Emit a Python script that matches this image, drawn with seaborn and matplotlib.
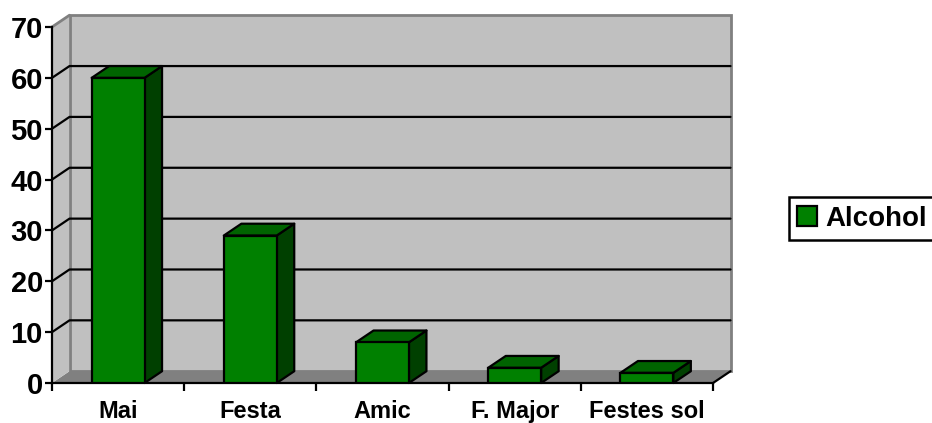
import matplotlib
matplotlib.use("Agg")
import matplotlib.pyplot as plt
import seaborn as sns
import pandas as pd
from matplotlib.patches import Polygon, Rectangle
from matplotlib.lines import Line2D

# ---- data ----
categories = ["Mai", "Festa", "Amic", "F. Major", "Festes sol"]
values = [60, 29, 8, 3, 2]
series_name = "Alcohol"
y_ticks = [0, 10, 20, 30, 40, 50, 60, 70]

# ---- style ----
sns.set_theme(style="white")
plt.rcParams['font.family'] = ['Liberation Sans', 'DejaVu Sans']
plt.rcParams['text.color'] = 'black'
plt.rcParams['xtick.color'] = 'black'
plt.rcParams['ytick.color'] = 'black'

FRONT = "#008000"
TOP = "#006400"
SIDE = "#004000"
WALL = "#C0C0C0"
FLOOR = "#808080"
EDGE_GRAY = "#808080"

W, H = 932, 423
fig = plt.figure(figsize=(W / 100, H / 100), dpi=100)
L, R, B, T = 52, 713, 383, 27
ax = fig.add_axes([L / W, 1 - B / H, (R - L) / W, (B - T) / H])
ax.patch.set_visible(False)

df = pd.DataFrame({"cat": categories, "val": values})
sns.barplot(data=df, x="cat", y="val", color=FRONT, saturation=1, width=0.4,
            edgecolor="black", linewidth=1.6, ax=ax, zorder=6)
bars = list(ax.patches)

ymin, ymax = y_ticks[0], y_ticks[-1]
x0, x1 = -0.5, len(categories) - 0.5
ax.set_xlim(x0, x1)
ax.set_ylim(ymin, ymax)

# depth offsets (pixels -> data units)
xs = (R - L) / (x1 - x0)
ys = (B - T) / (ymax - ymin)
ddx = 17.5 / xs
ddy = 11.8 / ys

# walls and floor
ax.add_patch(Polygon([(x0, ymin), (x1, ymin), (x1 + ddx, ymin + ddy), (x0 + ddx, ymin + ddy)],
                     closed=True, fc=FLOOR, ec="none", zorder=0, clip_on=False))
ax.add_patch(Polygon([(x0, ymin), (x0 + ddx, ymin + ddy), (x0 + ddx, ymax + ddy), (x0, ymax)],
                     closed=True, fc=WALL, ec="none", zorder=0, clip_on=False))
ax.add_patch(Rectangle((x0 + ddx, ymin + ddy), x1 - x0, ymax - ymin,
                       fc=WALL, ec=EDGE_GRAY, lw=2, zorder=0.5, clip_on=False))
ax.add_line(Line2D([x0, x0 + ddx], [ymax, ymax + ddy], color=EDGE_GRAY, lw=2,
                   zorder=0.6, clip_on=False))
for yv in y_ticks[1:-1]:
    ax.add_line(Line2D([x0, x0 + ddx, x1 + ddx], [yv, yv + ddy, yv + ddy],
                       color="black", lw=1.6, zorder=1, clip_on=False))
ax.add_line(Line2D([x1, x1 + ddx], [ymin, ymin + ddy], color="black", lw=1.6,
                   zorder=3, clip_on=False))

# 3D faces for bars
for p in bars:
    l, w, h = p.get_x(), p.get_width(), p.get_height()
    ax.add_patch(Polygon([(l + w, 0), (l + w + ddx, ddy), (l + w + ddx, h + ddy), (l + w, h)],
                         closed=True, fc=SIDE, ec="black", lw=1.6, zorder=5, clip_on=False,
                         joinstyle="round"))
    ax.add_patch(Polygon([(l, h), (l + w, h), (l + w + ddx, h + ddy), (l + ddx, h + ddy)],
                         closed=True, fc=TOP, ec="black", lw=1.6, zorder=5, clip_on=False,
                         joinstyle="round"))

# axes
for s in ["top", "right"]:
    ax.spines[s].set_visible(False)
for s in ["left", "bottom"]:
    ax.spines[s].set_color("black")
    ax.spines[s].set_linewidth(1.6)
    ax.spines[s].set_zorder(4)

ax.set_yticks(y_ticks)
ax.set_yticklabels([str(v) for v in y_ticks], fontsize=21, fontweight="bold")
ax.set_xticks(range(len(categories)))
ax.set_xticklabels(categories, fontsize=17, fontweight="bold")
ax.set_xticks([i - 0.5 for i in range(len(categories) + 1)], minor=True)
ax.tick_params(axis="y", which="major", direction="out", length=5, width=1.6,
               color="black", labelcolor="black", pad=1.5, left=True)
ax.tick_params(axis="x", which="major", length=0, pad=12, bottom=True, labelcolor="black")
ax.tick_params(axis="x", which="minor", direction="out", length=6, width=1.6,
               color="black", bottom=True)
ax.set_xlabel("")
ax.set_ylabel("")

leg = ax.legend(handles=[bars[0]], labels=[series_name], loc="center left",
                bbox_to_anchor=(789 / W, 1 - 218.5 / H), bbox_transform=fig.transFigure,
                prop={"weight": "bold", "size": 20}, frameon=True, fancybox=False,
                edgecolor="black", framealpha=1, handlelength=0.72, handleheight=0.72,
                handletextpad=0.3, borderpad=0.3, borderaxespad=0)
leg.get_frame().set_linewidth(1.8)
for t in leg.get_texts():
    t.set_color("black")

fig.savefig("out.png", dpi=100)
